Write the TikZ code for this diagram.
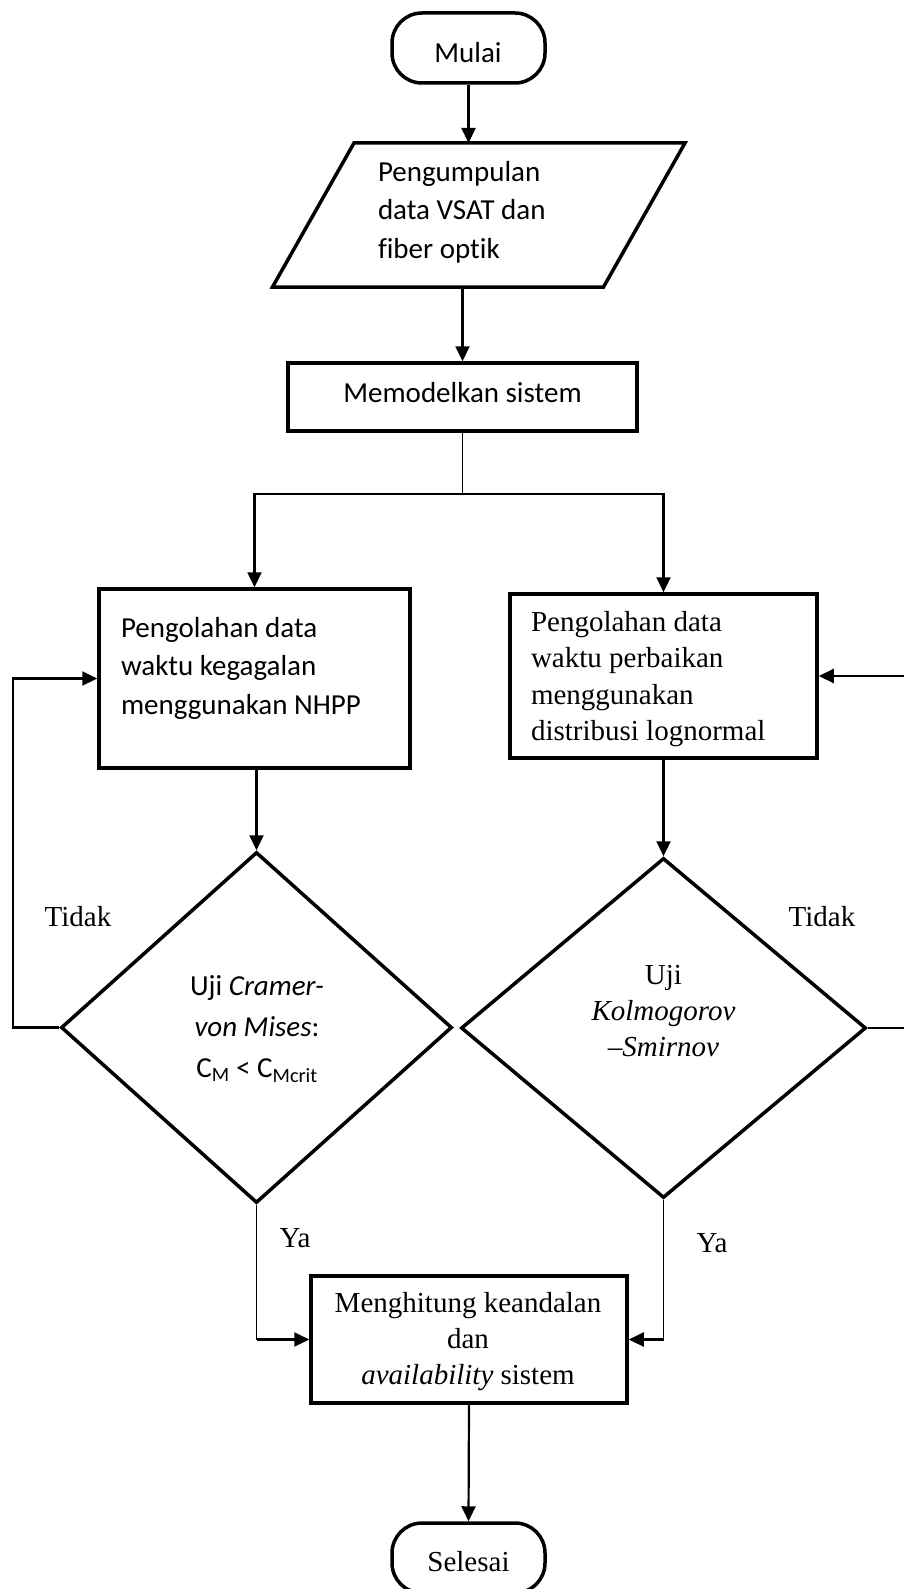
\documentclass[tikz,border=0pt]{standalone}
\usepackage{fontspec}
\setmainfont{Liberation Serif}
\newfontfamily\calfont[Ligatures=NoCommon]{Carlito}
\usetikzlibrary{arrows.meta,shapes.geometric}
\newcommand\calsz[1]{\calfont\fontsize{29}{#1}\selectfont}
\newcommand\timsz[1]{\rmfamily\fontsize{29}{#1}\selectfont}
\tikzset{
  bord/.style={draw, line width=3.5pt, inner sep=0pt, fill=white},
  arr/.style={line width=2.2pt, -{Triangle[length=15pt,width=14pt]}},
  thinline/.style={line width=1.2pt},
  txt/.style={inner sep=0pt, outer sep=0pt},
}
\begin{document}
\begin{tikzpicture}[x=1pt,y=-1pt]
\useasboundingbox[fill=white] (0,0) rectangle (904,1589);
% shapes
\node[bord, rounded corners=30pt, minimum width=153pt, minimum height=70pt] (mulai) at (468.5,48) {};
\node[txt, minimum width=331pt, minimum height=144pt] (para) at (478.75,215) {};
\draw[line width=3.5pt, line join=miter] ([xshift=40.75pt]para.north west) -- ([xshift=40.75pt]para.north east)
  -- ([xshift=-40.75pt]para.south east) -- ([xshift=-40.75pt]para.south west) -- cycle;
\node[bord, minimum width=349pt, minimum height=68pt] (memo) at (462.5,397) {};
\node[bord, minimum width=311pt, minimum height=179pt] (box1) at (254.5,678.5) {};
\node[bord, minimum width=307pt, minimum height=164pt] (box2) at (663.5,676) {};
\node[bord, shape=diamond, minimum width=391pt, minimum height=351pt] (dia1) at (256.5,1027.5) {};
\node[bord, shape=diamond, minimum width=405pt, minimum height=340pt] (dia2) at (663.5,1028) {};
\node[bord, minimum width=316pt, minimum height=127pt] (box3) at (469,1339.5) {};
\node[bord, rounded corners=30pt, minimum width=153pt, minimum height=70pt] (selesai) at (468.5,1558) {};
% texts
\node[txt, font=\calsz{35}] (mulaitext) at (468,53) {Mulai};
\node[txt, font=\calsz{38.5}, align=left, anchor=west] (paratext) at (378,212) {Pengumpulan\\data VSAT dan\\fiber optik};
\node[txt, font=\calsz{35}] (memotext) at (462.5,393) {Memodelkan sistem};
\node[txt, font=\calsz{38.5}, align=left, anchor=west] (box1text) at (121,668) {Pengolahan data\\waktu kegagalan\\menggunakan NHPP};
\node[txt, font=\timsz{36.5}, align=left, anchor=west] (box2text) at (531,679) {Pengolahan data\\waktu perbaikan\\menggunakan\\distribusi lognormal};
\node[txt, font=\calsz{41}, align=center] (dia1text) at (257,1029) {Uji \textit{Cramer-}\\\textit{von Mises}:\\C\textsubscript{M} {<} C\textsubscript{Mcrit}};
\node[txt, font=\timsz{36}, align=center] (dia2text) at (663.5,1011) {Uji\\\textit{Kolmogorov}\\\textit{–Smirnov}};
\node[txt, font=\timsz{36}, align=center] (box3text) at (468,1342) {Menghitung keandalan\\dan\\\textit{availability} sistem};
\node[txt, font=\timsz{35}] (selesaitext) at (468.5,1562) {Selesai};
\node[txt, font=\timsz{35}] (tidak1) at (78,917) {Tidak};
\node[txt, font=\timsz{35}] (tidak2) at (822,917) {Tidak};
\node[txt, font=\timsz{35}] (ya1) at (295,1238) {Ya};
\node[txt, font=\timsz{35}] (ya2) at (712,1243) {Ya};
% connectors
\draw[arr] (mulai.south) -- (mulai.south |- para.north);
\draw[arr] (memo.north |- para.south) -- (memo.north);
\coordinate (split) at (462.5,494);
\draw[thinline] (memo.south) -- (split);
\draw[arr] (split) -| (box1.north);
\draw[arr] (split) -| (box2.north);
\draw[arr] (dia1.north |- box1.south) -- (dia1.north);
\draw[arr] (box2.south) -- (dia2.north);
\coordinate (lloop) at (13,1027.5);
\coordinate (rloop) at (906,1028);
\draw[arr] (dia1.west) -- (lloop) |- (box1.west);
\draw[arr] (dia2.east) -- (rloop) |- (box2.east);
\draw[thinline] (dia1.south) -- (dia1.south |- box3.west);
\draw[arr] (dia1.south |- box3.west) -- (box3.west);
\draw[thinline] (dia2.south) -- (dia2.south |- box3.east);
\draw[arr] (dia2.south |- box3.east) -- (box3.east);
\draw[arr] (box3.south) -- (selesai.north);
\end{tikzpicture}
\end{document}
